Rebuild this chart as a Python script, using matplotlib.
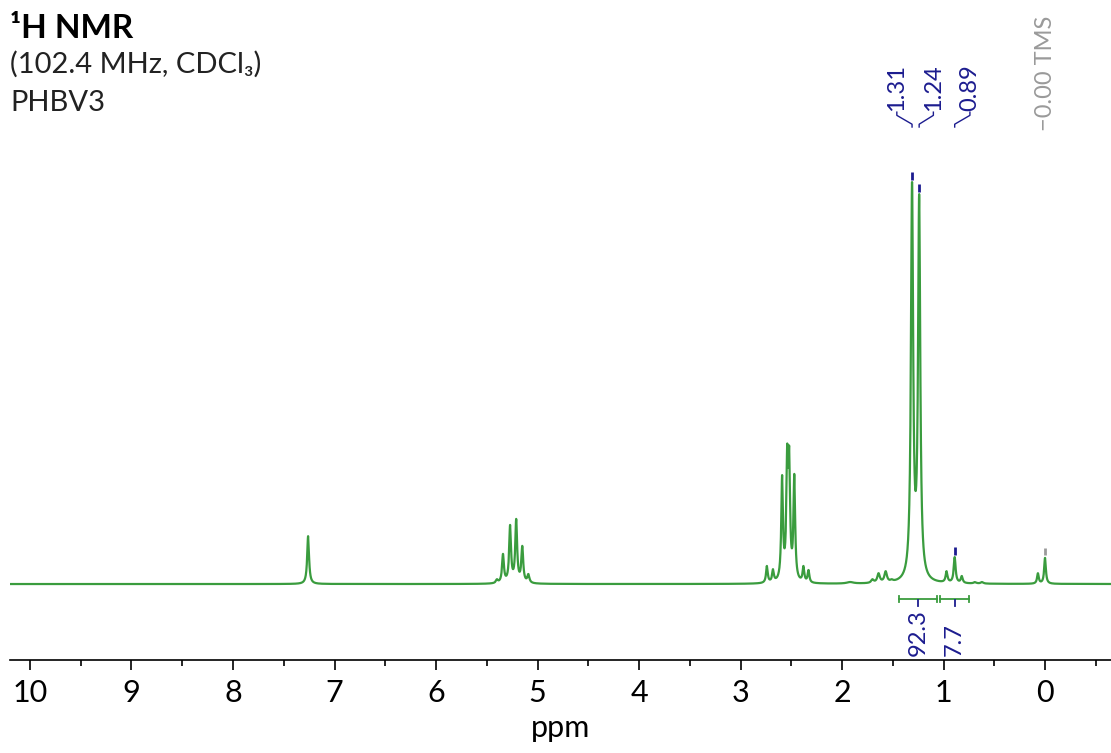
import numpy as np
import matplotlib.pyplot as plt

plt.rcParams['font.family'] = ['Lato', 'DejaVu Sans']

# peak list: shift (ppm), observed height (% of tallest line), half width (ppm)
shifts = [7.26,
          5.40, 5.34, 5.27, 5.21, 5.15, 5.09,
          2.74, 2.68, 2.59, 2.54, 2.52, 2.47, 2.38, 2.33,
          1.92, 1.70, 1.64, 1.57, 1.51,
          1.31, 1.24,
          0.97, 0.89, 0.82, 0.69, 0.62,
          0.07, 0.00]
heights = [11.9,
           1.2, 7.5, 14.7, 16.2, 9.5, 2.5,
           4.5, 3.7, 27.1, 34.8, 34.3, 27.4, 4.5, 3.5,
           0.5, 1.2, 2.7, 3.2, 1.2,
           100.0, 97.0,
           3.2, 6.7, 2.0, 0.5, 0.5,
           2.7, 6.5]
widths = [0.011,
          0.012, 0.011, 0.011, 0.011, 0.011, 0.012,
          0.010, 0.010, 0.010, 0.010, 0.010, 0.010, 0.010, 0.010,
          0.040, 0.015, 0.015, 0.015, 0.015,
          0.013, 0.013,
          0.011, 0.011, 0.011, 0.015, 0.015,
          0.010, 0.010]

# labelled peaks: (shift, label x position)
picked = [1.31, 1.24, 0.89]
picked_text = ['1.31', '1.24', '0.89']
picked_label_x = [1.46, 1.10, 0.74]

# integral regions
int_from = [1.44, 1.03]
int_to = [1.06, 0.75]
int_values = ['92.3', '7.7']

navy = '#1c1c8f'
green = '#3a9c3e'
grey = '#9a9a9a'

shifts = np.array(shifts)
heights = np.array(heights)
widths = np.array(widths)


def lorentz(x, x0, g):
    return g**2 / ((x - x0)**2 + g**2)


# amplitudes so that the summed curve reaches the observed heights
A = lorentz(shifts[:, None], shifts[None, :], widths[None, :])
amps = np.linalg.solve(A, heights)

ppm = np.arange(-0.65, 10.2, 0.0004)
spec = (amps[None, :] * lorentz(ppm[:, None], shifts[None, :], widths[None, :])).sum(axis=1)


def height_at(x0):
    return float((amps * lorentz(x0, shifts, widths)).sum())


fig = plt.figure(figsize=(11.11, 7.53), dpi=100)
ax = fig.add_axes([10 / 1111, 93 / 753, 1101 / 1111, 660 / 753])
ax.plot(ppm, spec, color=green, lw=1.6)
ax.set_xlim(10.197, -0.65)
ax.set_ylim(-18.9, 145.3)

for s in ['left', 'top', 'right']:
    ax.spines[s].set_visible(False)
ax.spines['bottom'].set_linewidth(1.2)
ax.set_yticks([])
ax.set_xticks(np.arange(0, 11))
ax.set_xticks(np.arange(-0.5, 10.5, 0.5), minor=True)
ax.tick_params(axis='x', which='major', length=7, width=1.2, labelsize=22, pad=7)
ax.tick_params(axis='x', which='minor', length=4, width=1.2)
ax.set_xlabel('ppm', fontsize=22, labelpad=5)

# peak picks
for s, txt, lx in zip(picked, picked_text, picked_label_x):
    top = height_at(s)
    ax.plot([s, s], [top + 0.6, top + 2.4], color=navy, lw=2, solid_capstyle='butt')
    ax.plot([lx, lx, s, s], [117.4, 116.6, 114.4, 113.7], color=navy, lw=1)
    ax.text(lx, 117.6, txt, rotation=90, ha='center', va='bottom',
            fontsize=17, color=navy)

# reference
top = height_at(0.0)
ax.plot([0, 0], [top + 0.6, top + 2.4], color=grey, lw=2, solid_capstyle='butt')
ax.text(0.0, 112.8, '\u22120.00 TMS', rotation=90, ha='center', va='bottom',
        fontsize=17, color=grey)

# integrals
iy = -3.73
for a, b, v in zip(int_from, int_to, int_values):
    ax.plot([a, b], [iy, iy], color=green, lw=1.3)
    for e in (a, b):
        ax.plot([e, e], [iy - 0.7, iy + 0.7], color=green, lw=1.3)
    mid = (a + b) / 2
    ax.plot([mid, mid], [iy - 0.2, iy - 1.8], color=navy, lw=1.3)
    ax.text(mid, -17.9, v, rotation=90, ha='center', va='bottom',
            fontsize=17, color=navy)

fig.text(10 / 1111, 1 - 38 / 753, '\u00b9H NMR', fontsize=24, fontweight='bold',
         va='baseline')
fig.text(10 / 1111, 1 - 73 / 753, '(102.4 MHz, CDCl\u2083)', fontsize=21,
         va='baseline', color='#222222')
fig.text(10 / 1111, 1 - 111 / 753, 'PHBV3', fontsize=21, va='baseline',
         color='#222222')

fig.savefig('out.png', dpi=100)
